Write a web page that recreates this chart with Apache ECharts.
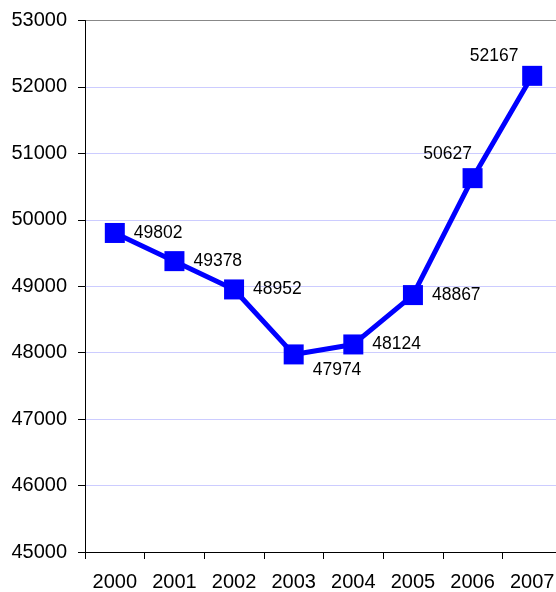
<!DOCTYPE html>
<html>
<head>
<meta charset="utf-8">
<script src="https://cdn.jsdelivr.net/npm/echarts@6/dist/echarts.min.js"></script>
<style>html,body{margin:0;padding:0;background:#fff;overflow:hidden;width:556px;height:592px}#c{width:570px;height:592px}</style>
</head>
<body>
<div id="c"></div>
<script>
var years = ['2000','2001','2002','2003','2004','2005','2006','2007'];
var values = [49802, 49378, 48952, 47974, 48124, 48867, 50627, 52167];
var yMin = 45000, yMax = 53000, yStep = 1000;

// label placement per point (style only)
var place = [
  {position:'right', distance:9, offset:[0,0]},
  {position:'right', distance:9, offset:[0,0]},
  {position:'right', distance:9, offset:[0,0]},
  {position:'right', distance:9, offset:[0,16]},
  {position:'right', distance:9, offset:[0,0]},
  {position:'right', distance:9, offset:[0,0]},
  {position:'top', distance:5, offset:[-25,0]},
  {position:'top', distance:1, offset:[-38,0]}
];

var nLines = (yMax - yMin) / yStep + 1;
var splitColors = [];
for (var k = 0; k < nLines; k++) splitColors.push(k === nLines - 1 ? '#888888' : '#ccccff');

var chart = echarts.init(document.getElementById('c'));
var font = 'Liberation Sans, Arial, Helvetica, sans-serif';
chart.setOption({
  animation: false,
  grid: {left: 85, top: 20.5, width: 477, bottom: 39, show: false},
  xAxis: {
    type: 'category', data: years, boundaryGap: true,
    axisLine: {lineStyle: {color: '#000', width: 1}},
    axisTick: {show: true, length: 7, lineStyle: {color: '#000'}},
    axisLabel: {color: '#000', fontSize: 20, fontFamily: font, margin: 20},
    splitLine: {show: false}
  },
  yAxis: {
    type: 'value', min: yMin, max: yMax, interval: yStep,
    axisLine: {show: true, lineStyle: {color: '#000', width: 1}},
    axisTick: {show: true, length: 7, lineStyle: {color: '#000'}},
    axisLabel: {color: '#000', fontSize: 20, fontFamily: font, margin: 18,
      formatter: function (v) { return String(v); }},
    splitLine: {show: true, lineStyle: {color: splitColors, width: 1}}
  },
  series: [{
    type: 'line',
    data: values.map(function (v, i) {
      return {value: v, label: {show: true, position: place[i].position, distance: place[i].distance, offset: place[i].offset}};
    }),
    symbol: 'rect', symbolSize: 20,
    itemStyle: {color: '#0000ff'},
    lineStyle: {color: '#0000ff', width: 5},
    label: {show: true, color: '#000', fontSize: 17.5, fontFamily: font}
  }]
});
</script>
</body>
</html>
